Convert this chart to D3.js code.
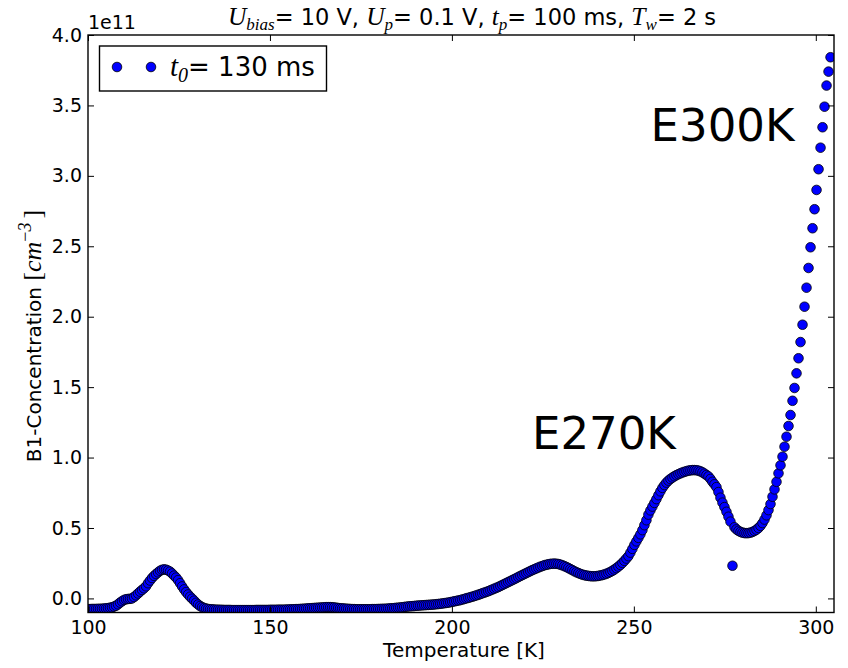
<!DOCTYPE html>
<html>
<head>
<meta charset="utf-8">
<script src="https://cdn.jsdelivr.net/npm/d3@7"></script>
<style>
  html, body { margin: 0; padding: 0; background: #fff; }
  svg { display: block; font-family: "DejaVu Sans", sans-serif; }
  .math { font-family: "Liberation Serif", "DejaVu Serif", serif; font-style: italic; }
</style>
</head>
<body>
<svg id="chart" width="848" height="668"></svg>
<script>
// Temperature scan: first sample and step (K)
const tStart = 100;
const tStep = 0.55;

// B1 concentration at each scan step, in units of 1e11 cm^-3
const concentration = [
  -0.076, -0.076, -0.075, -0.075, -0.075, -0.074, -0.074, -0.073, -0.072, -0.071,
  -0.069, -0.066, -0.063, -0.058, -0.052, -0.042, -0.030, -0.020, -0.011, -0.006,
  -0.004, -0.003,  0.000,  0.010,  0.022,  0.035,  0.048,  0.060,  0.072,  0.086,
   0.108,  0.127,  0.145,  0.160,  0.173,  0.185,  0.196,  0.203,  0.206,  0.204,
   0.198,  0.190,  0.177,  0.162,  0.148,  0.130,  0.108,  0.085,  0.064,  0.045,
   0.028,  0.012, -0.002, -0.016, -0.031, -0.043, -0.054, -0.062, -0.068, -0.072,
  -0.075, -0.077, -0.078, -0.079, -0.080, -0.080, -0.081, -0.081, -0.082, -0.082,
  -0.082, -0.082, -0.083, -0.083, -0.083, -0.083, -0.083, -0.083, -0.083, -0.083,
  -0.083, -0.083, -0.083, -0.083, -0.082, -0.082, -0.082, -0.082, -0.082, -0.082,
  -0.082, -0.081, -0.081, -0.081, -0.081, -0.080, -0.080, -0.080, -0.080, -0.079,
  -0.079, -0.078, -0.078, -0.077, -0.076, -0.076, -0.075, -0.074, -0.073, -0.072,
  -0.071, -0.070, -0.069, -0.068, -0.067, -0.066, -0.065, -0.064, -0.063, -0.062,
  -0.062, -0.062, -0.063, -0.064, -0.066, -0.068, -0.070, -0.071, -0.072, -0.073,
  -0.074, -0.075, -0.076, -0.076, -0.077, -0.077, -0.077, -0.077, -0.077, -0.077,
  -0.077, -0.077, -0.076, -0.076, -0.076, -0.075, -0.075, -0.074, -0.074, -0.073,
  -0.072, -0.071, -0.070, -0.069, -0.067, -0.066, -0.064, -0.063, -0.061, -0.059,
  -0.057, -0.056, -0.055, -0.054, -0.052, -0.051, -0.050, -0.049, -0.048, -0.047,
  -0.046, -0.045, -0.044, -0.043, -0.041, -0.040, -0.038, -0.036, -0.034, -0.032,
  -0.030, -0.027, -0.024, -0.021, -0.018, -0.015, -0.012, -0.008, -0.004,  0.000,
   0.004,  0.008,  0.012,  0.017,  0.021,  0.026,  0.031,  0.036,  0.041,  0.046,
   0.051,  0.057,  0.063,  0.069,  0.075,  0.081,  0.088,  0.095,  0.102,  0.109,
   0.116,  0.123,  0.130,  0.137,  0.144,  0.152,  0.159,  0.166,  0.173,  0.180,
   0.187,  0.194,  0.201,  0.207,  0.213,  0.219,  0.225,  0.230,  0.235,  0.239,
   0.242,  0.245,  0.246,  0.247,  0.246,  0.244,  0.240,  0.235,  0.229,  0.223,
   0.216,  0.208,  0.201,  0.193,  0.186,  0.180,  0.174,  0.169,  0.165,  0.162,
   0.160,  0.158,  0.157,  0.157,  0.158,  0.160,  0.163,  0.166,  0.170,  0.175,
   0.181,  0.188,  0.196,  0.205,  0.215,  0.226,  0.238,  0.252,  0.267,  0.283,
   0.300,  0.325,  0.352,  0.380,  0.405,  0.430,  0.455,  0.485,  0.520,  0.555,
   0.595,  0.625,  0.652,  0.678,  0.705,  0.733,  0.760,  0.785,  0.805,  0.822,
   0.836,  0.848,  0.858,  0.867,  0.875,  0.882,  0.888,  0.894,  0.899,  0.903,
   0.907,  0.909,  0.911,  0.911,  0.910,  0.907,  0.902,  0.895,  0.886,  0.876,
   0.866,  0.848,  0.828,  0.810,  0.790,  0.755,  0.715,  0.680,  0.648,  0.615,
   0.580,  0.545,  0.232,  0.505,  0.490,  0.480,  0.472,  0.467,  0.464,  0.463,
   0.464,  0.467,  0.472,  0.479,  0.488,  0.500,  0.515,  0.535,  0.560,  0.590,
   0.627,  0.670,  0.722,  0.774,  0.828,  0.888,  0.945,  1.006,  1.077,  1.148,
   1.224,  1.302,  1.403,  1.494,  1.598,  1.705,  1.820,  1.943,  2.071,  2.206,
   2.346,  2.493,  2.628,  2.763,  2.900,  3.047,  3.200,  3.345,  3.491,  3.641,
   3.740,  3.842
];

// Axis ticks
const xTicks = [100, 150, 200, 250, 300];
const yTicks = [0.0, 0.5, 1.0, 1.5, 2.0, 2.5, 3.0, 3.5, 4.0];
const yOffsetText = "1e11";

// Peak labels placed in data coordinates
const peakNames = ["E270K", "E300K"];
const peakLabelT = [222.0, 254.6];
const peakLabelC = [1.06, 3.25];

const temperature = concentration.map((_, i) => tStart + i * tStep);
const points = concentration.map((c, i) => ({ t: temperature[i], c }));

const plot = { left: 88, right: 834, top: 35, bottom: 612.5 };
const FONT = 19;        // tick labels
const LABEL_FONT = 20;  // axis labels
const TITLE_FONT = 22.5;
const LEGEND_FONT = 26;

const svg = d3.select("#chart");

const x = d3.scaleLinear().domain([100, 305]).range([plot.left, plot.right]);
const y = d3.scaleLinear().domain([-0.1, 4.0]).range([plot.bottom, plot.top]);

// clip region for markers
svg.append("defs").append("clipPath").attr("id", "plotClip")
  .append("rect")
  .attr("x", plot.left).attr("y", plot.top)
  .attr("width", plot.right - plot.left).attr("height", plot.bottom - plot.top);

// data markers
svg.append("g").attr("clip-path", "url(#plotClip)")
  .selectAll("circle").data(points).join("circle")
  .attr("cx", d => x(d.t))
  .attr("cy", d => y(d.c))
  .attr("r", 4.8)
  .attr("fill", "#0000ff")
  .attr("stroke", "#000")
  .attr("stroke-width", 0.8);

// axes with inward ticks on all four sides
function styleAxis(g) {
  g.select(".domain").remove();
  g.selectAll(".tick line").attr("stroke", "#000").attr("stroke-width", 1);
  g.selectAll(".tick text").attr("fill", "#000")
    .style("font-family", "'DejaVu Sans', sans-serif").style("font-size", FONT + "px");
}

svg.append("g").attr("transform", `translate(0,${plot.bottom})`)
  .call(d3.axisBottom(x).tickValues(xTicks).tickSize(-6).tickPadding(8).tickFormat(d3.format("d")))
  .call(styleAxis);
svg.append("g").attr("transform", `translate(0,${plot.top})`)
  .call(d3.axisTop(x).tickValues(xTicks).tickSize(-6).tickFormat(""))
  .call(styleAxis);
svg.append("g").attr("transform", `translate(${plot.left},0)`)
  .call(d3.axisLeft(y).tickValues(yTicks).tickSize(-6).tickPadding(6).tickFormat(d3.format(".1f")))
  .call(styleAxis);
svg.append("g").attr("transform", `translate(${plot.right},0)`)
  .call(d3.axisRight(y).tickValues(yTicks).tickSize(-6).tickFormat(""))
  .call(styleAxis);

// frame
svg.append("rect")
  .attr("x", plot.left).attr("y", plot.top)
  .attr("width", plot.right - plot.left).attr("height", plot.bottom - plot.top)
  .attr("fill", "none").attr("stroke", "#000").attr("stroke-width", 1.4);

// exponent of the y values
svg.append("text").attr("x", plot.left).attr("y", 29)
  .attr("font-size", FONT).text(yOffsetText);

// helper: append "symbol_sub" in math style, followed by plain text
function mathSub(t, sym, sub, size) {
  const shift = Math.round(size * 0.22);
  t.append("tspan").attr("class", "math").attr("font-size", size + 3).text(sym);
  t.append("tspan").attr("class", "math").attr("font-size", Math.round(size * 0.75)).attr("dy", shift).text(sub);
  return shift;
}
function plain(t, str, shift) {
  return t.append("tspan").attr("dy", -shift).text(str);
}

// title
const title = svg.append("text")
  .attr("x", 472).attr("y", 25)
  .attr("text-anchor", "middle").attr("font-size", TITLE_FONT);
plain(title, "= 10 V, ", mathSub(title, "U", "bias", TITLE_FONT));
plain(title, "= 0.1 V, ", mathSub(title, "U", "p", TITLE_FONT));
plain(title, "= 100 ms, ", mathSub(title, "t", "p", TITLE_FONT));
plain(title, "= 2 s", mathSub(title, "T", "w", TITLE_FONT));

// x label
svg.append("text")
  .attr("x", (plot.left + plot.right) / 2 + 3).attr("y", 657)
  .attr("text-anchor", "middle").attr("font-size", LABEL_FONT)
  .text("Temperature [K]");

// y label
const yl = svg.append("text")
  .attr("transform", "translate(41,336) rotate(-90)")
  .attr("text-anchor", "middle").attr("font-size", LABEL_FONT);
yl.append("tspan").text("B1-Concentration ");
yl.append("tspan").attr("font-family", "'Liberation Serif', serif").attr("font-size", 26).text("[");
yl.append("tspan").attr("class", "math").attr("font-size", 26).text("cm");
yl.append("tspan").attr("font-family", "'Liberation Serif', serif").attr("font-size", 18).attr("dy", -10).text("\u2212");
yl.append("tspan").attr("class", "math").attr("font-size", 18).text("3");
yl.append("tspan").attr("font-family", "'Liberation Serif', serif").attr("font-size", 26).attr("dx", 4).attr("dy", 10).text("]");

// peak labels
svg.append("g").selectAll("text").data(peakNames).join("text")
  .attr("x", (d, i) => x(peakLabelT[i]))
  .attr("y", (d, i) => y(peakLabelC[i]))
  .attr("font-size", 45)
  .text(d => d);

// legend
const lg = svg.append("g");
lg.append("rect").attr("x", 99.5).attr("y", 46).attr("width", 227).attr("height", 45)
  .attr("fill", "#fff").attr("stroke", "#000").attr("stroke-width", 1.4);
lg.selectAll("circle").data([117, 151]).join("circle")
  .attr("cx", d => d).attr("cy", 67).attr("r", 4.8)
  .attr("fill", "#0000ff").attr("stroke", "#000").attr("stroke-width", 0.8);
const lt = lg.append("text").attr("x", 170).attr("y", 76).attr("font-size", LEGEND_FONT);
plain(lt, "= 130 ms", mathSub(lt, "t", "0", LEGEND_FONT));
</script>
</body>
</html>
